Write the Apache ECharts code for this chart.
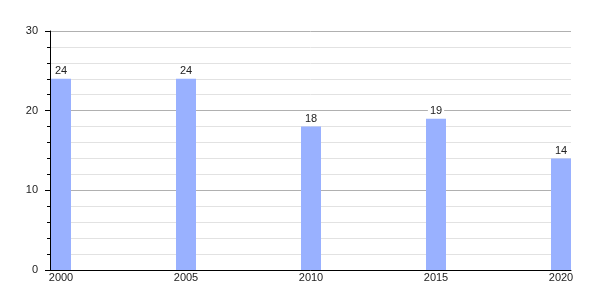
<!DOCTYPE html>
<html><head><meta charset="utf-8">
<script src="https://cdn.jsdelivr.net/npm/echarts@6/dist/echarts.min.js"></script>
<style>html,body{margin:0;padding:0;background:#fff}#c{width:600px;height:300px}</style>
</head><body><div id="c"></div>
<script>
const years = [2000, 2005, 2010, 2015, 2020];
const values = [24, 24, 18, 19, 14];
const yTicks = [0, 10, 20, 30];

const chart = echarts.init(document.getElementById('c'), null, {renderer: 'canvas'});
chart.setOption({
  animation: false,
  backgroundColor: '#fff',
  grid: {left: 50, right: 29, top: 31, bottom: 30, containLabel: false},
  xAxis: {
    type: 'value', min: 1999.56, max: 2020.4,
    axisLine: {show: true, onZero: false, lineStyle: {color: '#000', width: 1}},
    axisTick: {show: false},
    splitLine: {show: false},
    axisLabel: {customValues: years, formatter: v => String(v), color: '#222', fontSize: 11, fontFamily: 'Liberation Sans, Arial, sans-serif', margin: 2}
  },
  yAxis: {
    type: 'value', min: 0, max: 30, interval: 10,
    axisLine: {show: true, lineStyle: {color: '#000', width: 1}},
    axisTick: {show: true, length: 5, lineStyle: {color: '#000'}},
    minorTick: {show: true, splitNumber: 5, length: 3, lineStyle: {color: '#000'}},
    splitLine: {show: true, lineStyle: {color: '#b0b0b0', width: 1}},
    minorSplitLine: {show: true, lineStyle: {color: '#e2e2e2', width: 1}},
    axisLabel: {customValues: yTicks, color: '#222', fontSize: 11, fontFamily: 'Liberation Sans, Arial, sans-serif', margin: 12}
  },
  series: [{
    type: 'bar',
    data: years.map((y, i) => [y, values[i]]),
    barWidth: 20,
    itemStyle: {color: '#99b1ff'},
    label: {show: true, position: 'top', distance: 1, color: '#222', fontSize: 11, fontFamily: 'Liberation Sans, Arial, sans-serif', backgroundColor: '#fff', padding: [1, 2]}
  }]
});
</script></body></html>
